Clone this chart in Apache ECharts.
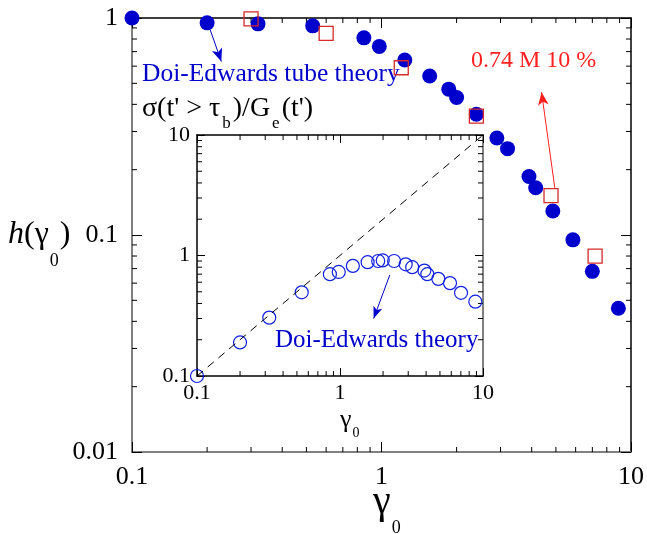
<!DOCTYPE html>
<html>
<head>
<meta charset="utf-8">
<title>h(gamma0)</title>
<script src="https://cdn.jsdelivr.net/npm/echarts@6/dist/echarts.min.js"></script>
<style>
  html, body {margin: 0; padding: 0; background: #fff;}
  #main {width: 647px; height: 534px;}
</style>
</head>
<body>
<div id="main"></div>
<script type="text/javascript">
// main plot: h(gamma0), filled circles
var mainX = [0.1, 0.2, 0.32, 0.53, 0.85, 0.98, 1.24, 1.56, 1.86, 2.0, 2.4, 2.9, 3.2, 3.9, 4.15, 4.86, 5.85, 7.0, 8.9];
var mainY = [1.0, 0.95, 0.94, 0.92, 0.81, 0.74, 0.64, 0.54, 0.47, 0.43, 0.36, 0.28, 0.25, 0.186, 0.165, 0.129, 0.095, 0.068, 0.046];
// 0.74 M 10 % (open squares)
var sqX = [0.30, 0.60, 1.2, 2.4, 4.78, 7.18];
var sqY = [0.99, 0.85, 0.59, 0.353, 0.152, 0.080];
// inset: sigma / Ge
var insX = [0.1, 0.2, 0.32, 0.54, 0.85, 0.98, 1.23, 1.56, 1.85, 1.99, 2.39, 2.88, 3.2, 3.89, 4.08, 4.87, 5.88, 7.02, 8.84];
var insY = [0.1, 0.19, 0.305, 0.495, 0.70, 0.73, 0.82, 0.88, 0.90, 0.91, 0.90, 0.845, 0.80, 0.75, 0.70, 0.64, 0.59, 0.49, 0.414];
// Doi-Edwards line y = x
var deX = [0.1, 10];
var deY = [0.1, 10];
// minor tick values
var minorX = [0.2, 0.3, 0.4, 0.5, 0.6, 0.7, 0.8, 0.9, 2, 3, 4, 5, 6, 7, 8, 9];
var minorY = [0.02, 0.03, 0.04, 0.05, 0.06, 0.07, 0.08, 0.09, 0.2, 0.3, 0.4, 0.5, 0.6, 0.7, 0.8, 0.9];
var insMinorY = [0.2, 0.3, 0.4, 0.5, 0.6, 0.7, 0.8, 0.9, 2, 3, 4, 5, 6, 7, 8, 9];

var FONT = 'Liberation Serif';
var BLUE = '#0000cc';
var RED = '#d42a2a';

function zip(a, b) {
    return a.map(function (v, i) { return [v, b[i]]; });
}
function tickData(xs, ys, yMid) {
    var d = [];
    xs.forEach(function (v) { d.push([v, yMid, 0]); });
    ys.forEach(function (v) { d.push([1, v, 1]); });
    return d;
}
function minorTicks(len) {
    return function (params, api) {
        var cs = params.coordSys;
        var p = api.coord([api.value(0), api.value(1)]);
        var st = {stroke: '#000', lineWidth: 1};
        if (api.value(2) === 0) {
            return {type: 'group', children: [
                {type: 'line', shape: {x1: p[0], y1: cs.y + cs.height, x2: p[0], y2: cs.y + cs.height - len}, style: st},
                {type: 'line', shape: {x1: p[0], y1: cs.y, x2: p[0], y2: cs.y + len}, style: st}
            ]};
        }
        return {type: 'group', children: [
            {type: 'line', shape: {x1: cs.x, y1: p[1], x2: cs.x + len, y2: p[1]}, style: st},
            {type: 'line', shape: {x1: cs.x + cs.width, y1: p[1], x2: cs.x + cs.width - len, y2: p[1]}, style: st}
        ]};
    };
}
function logAxis(grid, pos, min, max, lineColor, lineW, tickLen, label) {
    return {
        type: 'log', logBase: 10, gridIndex: grid, position: pos, min: min, max: max,
        splitLine: {show: false},
        axisLine: {show: true, lineStyle: {color: lineColor, width: lineW}},
        axisTick: {show: true, inside: true, length: tickLen, lineStyle: {color: '#000', width: 1}},
        axisLabel: label || {show: false}
    };
}
function lbl(size, margin) {
    return {show: true, fontFamily: FONT, fontSize: size, color: '#000', margin: margin,
            showMinLabel: true, showMaxLabel: true};
}

var myChart = echarts.init(document.getElementById('main'));
var option = {
    animation: false,
    backgroundColor: '#fff',
    grid: [
        {left: 132, top: 18, width: 504, height: 434},
        {left: 197, top: 135, width: 286, height: 241}
    ],
    xAxis: [
        logAxis(0, 'bottom', 0.1, 10, '#808080', 2, 10, lbl(26, 12)),
        logAxis(0, 'top', 0.1, 10, '#000', 1.5, 10),
        logAxis(1, 'bottom', 0.1, 10, '#000', 1.5, 8, lbl(22, 6)),
        logAxis(1, 'top', 0.1, 10, '#000', 1.5, 8)
    ],
    yAxis: [
        logAxis(0, 'left', 0.01, 1, '#808080', 2, 10, lbl(26, 14)),
        logAxis(0, 'right', 0.01, 1, '#000', 1.5, 10),
        logAxis(1, 'left', 0.1, 10, '#000', 1.5, 8, lbl(22, 7)),
        logAxis(1, 'right', 0.1, 10, '#808080', 2, 8)
    ],
    series: [
        {
            type: 'custom', xAxisIndex: 0, yAxisIndex: 0, silent: true,
            renderItem: minorTicks(5), data: tickData(minorX, minorY, 0.1)
        },
        {
            type: 'custom', xAxisIndex: 2, yAxisIndex: 2, silent: true,
            renderItem: minorTicks(5), data: tickData(minorX, insMinorY, 1)
        },
        {
            name: 'h', type: 'scatter', xAxisIndex: 0, yAxisIndex: 0, clip: false,
            symbol: 'circle', symbolSize: 15,
            itemStyle: {color: BLUE, opacity: 1},
            data: zip(mainX, mainY),
            markLine: {
                silent: true, symbol: ['none', 'arrow'], symbolSize: [8, 13],
                label: {show: false},
                lineStyle: {color: BLUE, width: 1, type: 'solid', opacity: 1},
                data: [[{coord: [0.206, 0.88]}, {coord: [0.228, 0.63]}]]
            }
        },
        {
            name: '0.74 M 10 %', type: 'scatter', xAxisIndex: 0, yAxisIndex: 0, clip: false,
            symbol: 'rect', symbolSize: 14,
            itemStyle: {color: 'rgba(0,0,0,0)', borderColor: RED, borderWidth: 1.3, opacity: 1},
            data: zip(sqX, sqY),
            markLine: {
                silent: true, symbol: ['none', 'arrow'], symbolSize: [8, 13],
                label: {show: false},
                lineStyle: {color: '#ff2020', width: 1, type: 'solid', opacity: 1},
                data: [[{coord: [4.95, 0.165]}, {coord: [4.38, 0.455]}]]
            }
        },
        {
            type: 'line', xAxisIndex: 2, yAxisIndex: 2, showSymbol: false, symbol: 'none',
            lineStyle: {color: '#000', width: 1, type: [8, 6]},
            data: zip(deX, deY)
        },
        {
            name: 'sigma', type: 'scatter', xAxisIndex: 2, yAxisIndex: 2, clip: false,
            symbol: 'circle', symbolSize: 13,
            itemStyle: {color: 'rgba(0,0,0,0)', borderColor: '#1020e0', borderWidth: 1.2, opacity: 1},
            data: zip(insX, insY),
            markLine: {
                silent: true, symbol: ['none', 'arrow'], symbolSize: [7, 12],
                label: {show: false},
                lineStyle: {color: BLUE, width: 1, type: 'solid', opacity: 1},
                data: [[{coord: [2.23, 0.69]}, {coord: [1.72, 0.30]}]]
            }
        }
    ],
    graphic: [
        {type: 'text', x: 142, y: 74, silent: true,
         style: {text: 'Doi-Edwards tube theory', font: '25.5px "Liberation Serif"', fill: BLUE, verticalAlign: 'middle'}},
        {type: 'text', x: 471, y: 61, silent: true,
         style: {text: '0.74 M 10 %', font: '24px "Liberation Serif"', fill: '#ff2020', verticalAlign: 'middle'}},
        {type: 'text', x: 275, y: 340, silent: true,
         style: {text: 'Doi-Edwards theory', font: '25px "Liberation Serif"', fill: BLUE, verticalAlign: 'middle'}},
        {type: 'text', x: 142, y: 109, silent: true,
         style: {
            text: "{n|σ(t' > τ}{s|b}{n|)/G}{s|e}{n|(t')}", verticalAlign: 'middle',
            rich: {
                n: {fontFamily: FONT, fontSize: 28, fill: '#000', lineHeight: 34},
                s: {fontFamily: FONT, fontSize: 17, fill: '#000', padding: [30, 2, 0, 2]}
            }
         }},
        {type: 'text', x: 373, y: 502, silent: true,
         style: {
            text: '{n|γ}{s|0}', verticalAlign: 'middle',
            rich: {
                n: {fontFamily: FONT, fontSize: 40, fill: '#000', lineHeight: 44},
                s: {fontFamily: FONT, fontSize: 18, fill: '#000', padding: [52, 0, 0, 1]}
            }
         }},
        {type: 'text', x: 340, y: 420, silent: true,
         style: {
            text: '{n|γ}{s|0}', verticalAlign: 'middle',
            rich: {
                n: {fontFamily: FONT, fontSize: 26, fill: '#000', lineHeight: 30},
                s: {fontFamily: FONT, fontSize: 14, fill: '#000', padding: [27, 0, 0, 1]}
            }
         }},
        {type: 'text', x: 8, y: 235, silent: true,
         style: {
            text: '{h|h}{n|(γ}{s|0}{n|)}', verticalAlign: 'middle',
            rich: {
                h: {fontFamily: FONT, fontStyle: 'italic', fontSize: 32, fill: '#000', lineHeight: 38},
                n: {fontFamily: FONT, fontSize: 32, fill: '#000', lineHeight: 38},
                s: {fontFamily: FONT, fontSize: 18, fill: '#000', padding: [52, 1, 0, 1]}
            }
         }}
    ]
};
myChart.setOption(option);
</script>
</body>
</html>
